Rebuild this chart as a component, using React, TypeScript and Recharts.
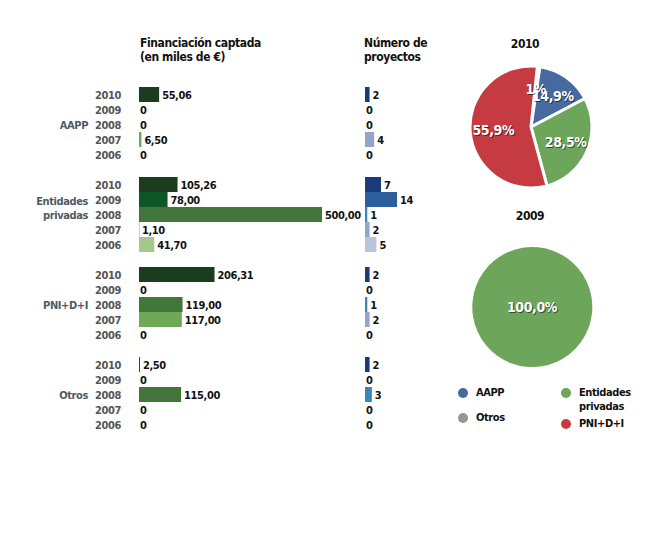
import { BarChart, Bar, XAxis, YAxis, Cell, LabelList, PieChart, Pie } from 'recharts';

const groups = ['AAPP', 'Entidades privadas', 'PNI+D+I', 'Otros'];
const years = ['2010', '2009', '2008', '2007', '2006'];

// financiación captada (miles de €), order 2010..2006
const fundAAPP = [55.06, 0, 0, 6.5, 0];
const fundEntidades = [105.26, 78.0, 500.0, 1.1, 41.7];
const fundPNI = [206.31, 0, 119.0, 117.0, 0];
const fundOtros = [2.5, 0, 115.0, 0, 0];

// número de proyectos, order 2010..2006
const projAAPP = [2, 0, 0, 4, 0];
const projEntidades = [7, 14, 1, 2, 5];
const projPNI = [2, 0, 1, 2, 0];
const projOtros = [2, 0, 3, 0, 0];

const funding = [fundAAPP, fundEntidades, fundPNI, fundOtros];
const projects = [projAAPP, projEntidades, projPNI, projOtros];

const fundColors = ['#1b3c1f', '#0e5626', '#43763b', '#70a955', '#a5c88d'];
const projColors = ['#1b3a7a', '#2c5e9e', '#3b87b7', '#94a5c7', '#b8c6da'];
const groupColors = ['#46699f', '#6da55a', '#c63b42', '#969696'];
const pieOrder = ['Otros', 'AAPP', 'Entidades privadas', 'PNI+D+I'];

const FONT = "'Liberation Sans Narrow', 'DejaVu Sans Condensed', sans-serif";
const LS = '-0.4px';

type Row = { id: string; year?: string; yi?: number; group?: string; fund: number | null; proj: number | null };

const rows: Row[] = [];
groups.forEach((g, gi) => {
  if (gi > 0) rows.push({ id: `gap${gi}`, fund: null, proj: null });
  years.forEach((y, yi) => {
    rows.push({
      id: `${g}-${y}`,
      year: y,
      yi,
      group: yi === 2 ? g : undefined,
      fund: funding[gi][yi],
      proj: projects[gi][yi],
    });
  });
});

const pieData = (yi: number) =>
  pieOrder
    .map((name) => {
      const gi = groups.indexOf(name);
      return { name, value: funding[gi][yi], color: groupColors[gi] };
    })
    .filter((d) => d.value > 0);

const fmtFund = (v: any) => (v == null ? '' : Number(v) === 0 ? '0' : Number(v).toFixed(2).replace('.', ','));
const fmtProj = (v: any) => (v == null ? '' : String(v));

const makeBarLabel = (fmt: (v: any) => string) => (props: any) => {
  const { x, y, width, height, value } = props;
  const txt = fmt(value);
  if (!txt) return null;
  const zero = Number(value) === 0;
  const w = Number(width) > 0.5 ? Number(width) : 0;
  return (
    <text x={Number(x) + w + (zero ? 1 : 3)} y={Number(y) + Number(height) / 2} dy={4} fontSize={11} fontWeight="bold" fill="#111" style={{ letterSpacing: LS }}>
      {txt}
    </text>
  );
};

// tiny size so zero-valued bars still get a label entry
const zeroMin = (v: any) => (v === 0 ? 0.001 : 0);

const RowTick = (props: any) => {
  const { y, index } = props;
  const row = rows[index];
  if (!row || !row.year) return <g />;
  const lines = row.group ? row.group.split(' ') : [];
  return (
    <g style={{ letterSpacing: LS }}>
      <text x={121} y={y} dy={4} textAnchor="end" fontSize={11} fontWeight="bold" fill="#555">
        {row.year}
      </text>
      {lines.length > 0 && (
        <text x={88} y={y} dy={4 - (lines.length - 1) * 14} textAnchor="end" fontSize={11} fontWeight="bold" fill="#4f5a66">
          {lines.map((l, i) => (
            <tspan key={l} x={88} dy={i === 0 ? undefined : 14}>
              {l}
            </tspan>
          ))}
        </text>
      )}
    </g>
  );
};

const RADIAN = Math.PI / 180;
const PieLabel = (props: any) => {
  const { cx, cy, midAngle, outerRadius, percent } = props;
  let x = cx;
  let y = cy;
  if (percent < 0.999) {
    const r = outerRadius * 0.62;
    x = cx + r * Math.cos(-midAngle * RADIAN);
    y = cy + r * Math.sin(-midAngle * RADIAN);
  }
  const pct = percent * 100;
  const txt = (pct < 5 ? pct.toFixed(0) : pct.toFixed(1).replace('.', ',')) + '%';
  return (
    <g style={{ letterSpacing: LS }}>
      <text x={x + 1} y={y + 1} dy={5} textAnchor="middle" fontSize={14} fontWeight="bold" fill="rgba(0,0,0,0.55)">
        {txt}
      </text>
      <text x={x} y={y} dy={5} textAnchor="middle" fontSize={14} fontWeight="bold" fill="#fff">
        {txt}
      </text>
    </g>
  );
};

const abs = (left: number, top: number, extra: any = {}) => ({ position: 'absolute' as const, left, top, ...extra });

const legendItems = [
  { name: 'AAPP', x: 463, y: 393, lines: ['AAPP'] },
  { name: 'Entidades privadas', x: 566, y: 393, lines: ['Entidades', 'privadas'] },
  { name: 'Otros', x: 463, y: 418, lines: ['Otros'] },
  { name: 'PNI+D+I', x: 566, y: 424, lines: ['PNI+D+I'] },
];

export default function App() {
  return (
    <div style={{ position: 'absolute', left: 0, top: 0, width: 665, height: 540, background: '#fff', fontFamily: FONT, color: '#111', letterSpacing: LS }}>
      <div style={abs(140, 36, { fontSize: 12, fontWeight: 'bold', lineHeight: '14px' })}>
        Financiación captada
        <br />
        (en miles de €)
      </div>
      <div style={abs(364, 36, { fontSize: 12, fontWeight: 'bold', lineHeight: '14px' })}>
        Número de
        <br />
        proyectos
      </div>

      <div style={abs(0, 0)}>
        <BarChart width={362} height={443} data={rows} layout="vertical" barCategoryGap={0} margin={{ top: 87, right: 40, bottom: 11, left: 0 }}>
          <XAxis type="number" domain={[0, 500]} hide />
          <YAxis type="category" dataKey="id" width={139} axisLine={false} tickLine={false} interval={0} tick={RowTick} />
          <Bar dataKey="fund" minPointSize={zeroMin} isAnimationActive={false}>
            {rows.map((r) => (
              <Cell key={r.id} fill={fundColors[r.yi ?? 0]} />
            ))}
            <LabelList dataKey="fund" content={makeBarLabel(fmtFund)} />
          </Bar>
        </BarChart>
      </div>

      <div style={abs(365, 0)}>
        <BarChart width={62} height={443} data={rows} layout="vertical" barCategoryGap={0} margin={{ top: 87, right: 30, bottom: 11, left: 0 }}>
          <XAxis type="number" domain={[0, 14]} hide />
          <YAxis type="category" dataKey="id" hide />
          <Bar dataKey="proj" minPointSize={zeroMin} isAnimationActive={false}>
            {rows.map((r) => (
              <Cell key={r.id} fill={projColors[r.yi ?? 0]} />
            ))}
            <LabelList dataKey="proj" content={makeBarLabel(fmtProj)} />
          </Bar>
        </BarChart>
      </div>

      <div style={abs(485, 37, { width: 80, textAlign: 'center', fontSize: 12, fontWeight: 'bold' })}>2010</div>
      <div style={abs(456, 52)}>
        <PieChart width={140} height={140}>
          <Pie data={pieData(0)} dataKey="value" cx={70} cy={70} outerRadius={61} startAngle={84} endAngle={-276} stroke="#fff" strokeWidth={3} labelLine={false} label={PieLabel} isAnimationActive={false}>
            {pieData(0).map((d) => (
              <Cell key={d.name} fill={d.color} />
            ))}
          </Pie>
        </PieChart>
      </div>

      <div style={abs(490, 209, { width: 80, textAlign: 'center', fontSize: 12, fontWeight: 'bold' })}>2009</div>
      <div style={abs(457, 232)}>
        <PieChart width={140} height={140}>
          <Pie data={pieData(1)} dataKey="value" cx={70} cy={70} outerRadius={60} startAngle={84} endAngle={-276} stroke="none" labelLine={false} label={PieLabel} isAnimationActive={false}>
            {pieData(1).map((d) => (
              <Cell key={d.name} fill={d.color} />
            ))}
          </Pie>
        </PieChart>
      </div>

      {legendItems.map((it) => (
        <div key={it.name}>
          <div style={abs(it.x - 5, it.y - 5, { width: 10, height: 10, borderRadius: 5, background: groupColors[groups.indexOf(it.name)] })} />
          <div style={abs(it.x + 13, it.y - 7, { fontSize: 11, fontWeight: 'bold', lineHeight: '14px' })}>
            {it.lines.map((l, i) => (
              <div key={i}>{l}</div>
            ))}
          </div>
        </div>
      ))}
    </div>
  );
}
